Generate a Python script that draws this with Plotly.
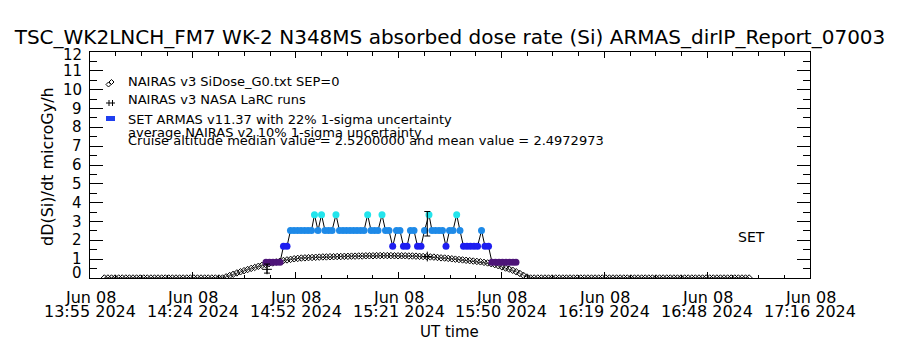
import plotly.graph_objects as go
import pandas as pd

# ---------------- data ----------------
TITLE = "TSC_WK2LNCH_FM7 WK-2 N348MS absorbed dose rate (Si) ARMAS_dirIP_Report_07003"
Y_TITLE = "dD(Si)/dt microGy/h"
X_TITLE = "UT time"
DAY = "2024-06-08"
X_START = "13:55:00"
X_END = "17:16:00"
X_TICK_DAY = ["Jun 08", "Jun 08", "Jun 08", "Jun 08", "Jun 08", "Jun 08", "Jun 08", "Jun 08"]
X_TICK_TIME = ["13:55 2024", "14:24 2024", "14:52 2024", "15:21 2024",
               "15:50 2024", "16:19 2024", "16:48 2024", "17:16 2024"]
Y_TICKS = [0, 1, 2, 3, 4, 5, 6, 7, 8, 9, 10, 11, 12]

# NAIRAS v3 model, one value per minute from 13:59 to 16:59
NAIRAS_START = "13:59:00"
NAIRAS_END = "16:59:00"
NAIRAS_VALUES = [
    0, 0, 0, 0, 0, 0, 0, 0, 0, 0,
    0, 0, 0, 0, 0, 0, 0, 0, 0, 0,
    0, 0, 0, 0, 0, 0, 0, 0, 0, 0,
    0, 0, 0,
    0.0, 0.06, 0.13, 0.2, 0.27, 0.33, 0.39, 0.45, 0.51, 0.56,
    0.62, 0.67, 0.72, 0.76, 0.8, 0.85, 0.89, 0.93, 0.96, 0.99,
    1.02, 1.04, 1.06, 1.07, 1.08, 1.09, 1.1, 1.11, 1.12, 1.12,
    1.13, 1.13, 1.14, 1.14, 1.15, 1.15, 1.16, 1.16, 1.17, 1.17,
    1.18, 1.18, 1.18, 1.19, 1.19, 1.19, 1.19, 1.19, 1.18, 1.18,
    1.18, 1.18, 1.17, 1.17, 1.16, 1.15, 1.14, 1.13, 1.12, 1.11,
    1.09, 1.07, 1.06, 1.04, 1.02, 1.0, 0.98, 0.96, 0.94, 0.92,
    0.9, 0.88, 0.86, 0.83, 0.8, 0.76, 0.71, 0.65, 0.59, 0.53,
    0.47, 0.41, 0.33, 0.24, 0.14, 0.05, 0.0,
    0, 0, 0, 0, 0, 0, 0, 0, 0, 0,
    0, 0, 0, 0, 0, 0, 0, 0, 0, 0,
    0, 0, 0, 0, 0, 0, 0, 0, 0, 0,
    0, 0, 0, 0, 0, 0, 0, 0, 0, 0,
    0, 0, 0, 0, 0, 0, 0, 0, 0, 0,
    0, 0, 0, 0, 0, 0, 0, 0, 0, 0,
    0,
]

# SET ARMAS measurements
ARMAS_TIMES = [
    "14:44:08", "14:45:07", "14:46:05", "14:47:04", "14:48:03", "14:49:01", "14:50:00",
    "14:50:58", "14:51:57", "14:52:56", "14:53:54", "14:54:53", "14:55:52", "14:56:50",
    "14:57:40", "14:58:39", "14:59:38", "15:00:36", "15:01:35", "15:02:34", "15:03:40",
    "15:04:39", "15:05:38", "15:06:36", "15:07:35", "15:08:34", "15:09:32", "15:10:31",
    "15:11:30", "15:12:31", "15:13:27", "15:14:25", "15:15:24", "15:16:31", "15:17:30",
    "15:18:28", "15:19:30", "15:20:34", "15:21:32", "15:22:31", "15:23:30", "15:24:28",
    "15:25:27", "15:26:26", "15:27:24", "15:28:23", "15:29:38", "15:30:28", "15:31:27",
    "15:32:26", "15:33:24", "15:34:23", "15:35:22", "15:36:20", "15:37:22", "15:38:17",
    "15:39:16", "15:40:15", "15:41:13", "15:42:12", "15:43:11", "15:44:18", "15:45:16",
    "15:46:15", "15:47:13", "15:48:12", "15:49:11", "15:50:09", "15:51:08", "15:52:07",
    "15:53:05", "15:53:55",
]
ARMAS_VALUES = [
    0.84, 0.84, 0.84, 0.84, 0.84, 1.68, 1.68,
    2.52, 2.52, 2.52, 2.52, 2.52, 2.52, 2.52,
    3.36, 2.52, 3.36, 2.52, 2.52, 2.52, 3.36,
    2.52, 2.52, 2.52, 2.52, 2.52, 2.52, 2.52,
    2.52, 3.36, 2.52, 2.52, 2.52, 3.36, 2.52,
    2.52, 1.68, 2.52, 2.52, 1.68, 1.68, 2.52,
    2.52, 1.68, 1.68, 2.52, 3.36, 2.52, 2.52,
    2.52, 2.52, 1.68, 2.52, 2.52, 3.36, 2.52,
    1.68, 1.68, 1.68, 1.68, 1.68, 2.52, 1.68,
    1.68, 0.84, 0.84, 0.84, 0.84, 0.84, 0.84,
    0.84, 0.84,
]

# NAIRAS v3 NASA LaRC runs
LARC_TIMES = ["14:44:25", "15:29:10"]
LARC_VALUES = [0.46, 1.14]

# uncertainty bars
UNC_TIMES = ["14:44:25", "15:29:10"]
UNC_CENTER = [0.50, 2.88]
UNC_SIGMA = [0.24, 0.65]

LEGEND_LINES = [
    "NAIRAS v3 SiDose_G0.txt SEP=0",
    "NAIRAS v3 NASA LaRC runs",
    "SET ARMAS v11.37 with 22% 1-sigma uncertainty",
    "average NAIRAS v2 10% 1-sigma uncertainty",
    "Cruise altitude median value = 2.5200000 and mean value = 2.4972973",
]
SET_LABEL = "SET"

# ---------------- styling ----------------
FONT = "DejaVu Sans"
LEVEL_COLORS = {0.84: "#4d1478", 1.68: "#1e1ef0", 2.52: "#1e8ae8", 3.36: "#22e4ec"}

# geometry (pixels) of the plot box
W, H = 900, 350
L, R, T, B = 90, 90, 52, 72
PW, PH = W - L - R, H - T - B


def px_x(px):
    return (px - L) / PW


def px_y(py):
    return (H - B - py) / PH


def ts(t):
    return pd.Timestamp(f"{DAY} {t}")


x0, x1 = ts(X_START), ts(X_END)
major = [x0 + (x1 - x0) * k / 7 for k in range(8)]
minor = [x0 + (x1 - x0) * k / 28 for k in range(29)]

nairas_times = pd.date_range(ts(NAIRAS_START), ts(NAIRAS_END), freq="1min")
assert len(nairas_times) == len(NAIRAS_VALUES)

fig = go.Figure()

fig.add_trace(go.Scatter(
    x=nairas_times, y=NAIRAS_VALUES, mode="lines+markers",
    line=dict(color="black", width=0.6),
    marker=dict(symbol="diamond-open", size=5, color="black", line=dict(width=1)),
    showlegend=False,
))

fig.add_trace(go.Scatter(
    x=[ts(t) for t in ARMAS_TIMES], y=ARMAS_VALUES, mode="lines+markers",
    line=dict(color="black", width=1),
    marker=dict(symbol="circle", size=7,
                color=[LEVEL_COLORS[v] for v in ARMAS_VALUES], line=dict(width=0)),
    showlegend=False,
))

fig.add_trace(go.Scatter(
    x=[ts(t) for t in UNC_TIMES], y=UNC_CENTER, mode="markers",
    marker=dict(size=1, color="rgba(0,0,0,0)"),
    error_y=dict(type="data", array=UNC_SIGMA, visible=True, color="black",
                 thickness=1, width=3),
    showlegend=False,
))

fig.add_trace(go.Scatter(
    x=[ts(t) for t in LARC_TIMES], y=LARC_VALUES, mode="markers",
    marker=dict(symbol="cross-thin-open", size=7, color="black", line=dict(width=1, color="black")),
    showlegend=False,
))

ann = []
# x tick labels (two lines, tight spacing as in the reference)
for xv, d, tm in zip(major, X_TICK_DAY, X_TICK_TIME):
    ann.append(dict(x=xv, xref="x", y=px_y(297), yref="paper", text=d, showarrow=False,
                    xanchor="center", yanchor="middle", font=dict(family=FONT, size=16, color="black")))
    ann.append(dict(x=xv, xref="x", y=px_y(311), yref="paper", text=tm, showarrow=False,
                    xanchor="center", yanchor="middle", font=dict(family=FONT, size=16, color="black")))
# y tick labels (end labels nudged inside, as IDL does)
for v in Y_TICKS:
    shift = 0
    if v == Y_TICKS[0]:
        shift = 5
    elif v == Y_TICKS[-1]:
        shift = -3
    ann.append(dict(x=px_x(84), xref="paper", y=v, yref="y", yshift=shift, text=str(v),
                    showarrow=False, xanchor="right", yanchor="middle",
                    font=dict(family=FONT, size=15, color="black")))
ann.append(dict(x=px_x(449), y=px_y(332), xref="paper", yref="paper", text=X_TITLE,
                showarrow=False, xanchor="center", yanchor="middle",
                font=dict(family=FONT, size=15, color="black")))
ann.append(dict(x=px_x(47), y=px_y(167), xref="paper", yref="paper", text=Y_TITLE,
                showarrow=False, xanchor="center", yanchor="middle", textangle=-90,
                font=dict(family=FONT, size=16, color="black")))
for txt, py in zip(LEGEND_LINES, [81, 99.5, 119, 132.5, 140]):
    ann.append(dict(x=px_x(126), y=px_y(py), xref="paper", yref="paper", text=txt,
                    showarrow=False, xanchor="left", yanchor="middle",
                    font=dict(family=FONT, size=13, color="black")))
ann.append(dict(x=px_x(751), y=px_y(237), xref="paper", yref="paper", text=SET_LABEL,
                showarrow=False, xanchor="center", yanchor="middle",
                font=dict(family=FONT, size=14, color="black")))


def diamond(cx, cy, r):
    return dict(type="path", xref="paper", yref="paper",
                path=(f"M {px_x(cx - r)} {px_y(cy)} L {px_x(cx)} {px_y(cy - r)} "
                      f"L {px_x(cx + r)} {px_y(cy)} L {px_x(cx)} {px_y(cy + r)} Z"),
                line=dict(color="black", width=1))


shapes = [
    diamond(108.5, 84.5, 2.5),
    diamond(111.5, 82.0, 2.5),
    dict(type="line", xref="paper", yref="paper", x0=px_x(106), x1=px_x(115),
         y0=px_y(103), y1=px_y(103), line=dict(color="black", width=1)),
    dict(type="line", xref="paper", yref="paper", x0=px_x(109), x1=px_x(109),
         y0=px_y(100), y1=px_y(106), line=dict(color="black", width=1)),
    dict(type="line", xref="paper", yref="paper", x0=px_x(112.5), x1=px_x(112.5),
         y0=px_y(100), y1=px_y(106), line=dict(color="black", width=1)),
    dict(type="rect", xref="paper", yref="paper", x0=px_x(106), x1=px_x(115),
         y0=px_y(121), y1=px_y(116), fillcolor="#1f3fef", line=dict(width=0)),
]

fig.update_layout(
    width=W, height=H,
    margin=dict(l=L, r=R, t=T, b=B, pad=0),
    paper_bgcolor="white", plot_bgcolor="white",
    font=dict(family=FONT, color="black"),
    title=dict(text=TITLE, x=0.5, xref="paper", xanchor="center", y=1 - 37 / H,
               yanchor="middle", font=dict(family=FONT, size=20, color="black")),
    annotations=ann, shapes=shapes,
    showlegend=False,
)
fig.update_xaxes(
    type="date", range=[x0, x1], tickmode="array", tickvals=major, showticklabels=False,
    ticks="inside", ticklen=6, tickwidth=1, tickcolor="black",
    minor=dict(tickmode="array", tickvals=minor, ticks="inside", ticklen=3.5,
               tickwidth=1, tickcolor="black", showgrid=False),
    showline=True, linecolor="black", linewidth=1, mirror="allticks",
    showgrid=False, zeroline=False,
)
fig.update_yaxes(
    range=[0, 12], tickmode="array", tickvals=Y_TICKS, showticklabels=False,
    ticks="inside", ticklen=13, tickwidth=1, tickcolor="black",
    minor=dict(dtick=0.5, ticks="inside", ticklen=7, tickwidth=1, tickcolor="black", showgrid=False),
    showline=True, linecolor="black", linewidth=1, mirror="allticks",
    showgrid=False, zeroline=False,
)

fig.write_html("out.html")
